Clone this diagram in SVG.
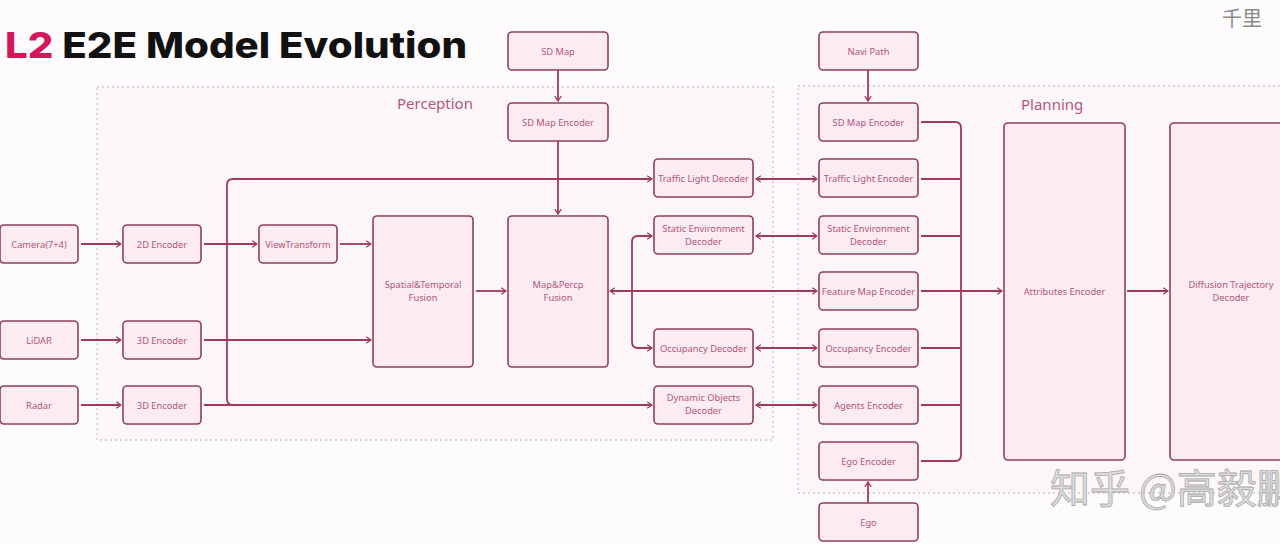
<svg xmlns="http://www.w3.org/2000/svg" width="1280" height="544" viewBox="0 0 1280 544">
<style>
.bg{fill:#fdfbfc}
.cont{fill:#fcf6f8;stroke:#cfc6ca;stroke-width:1.3;stroke-dasharray:2 3}
.box{fill:#fcecf1;stroke:#8f3f5b;stroke-width:1.6}
.lbl{font-family:"Noto Sans","Open Sans",sans-serif;font-size:9.3px;fill:#b3547a;text-anchor:middle}
.sec{font-family:"Noto Sans","Open Sans",sans-serif;font-size:15px;fill:#b5577f}
.ln{fill:none;stroke:#9e3a60;stroke-width:1.8}
.a{marker-end:url(#ah)}
.aa{marker-end:url(#ah);marker-start:url(#ah)}
.wm{font-family:"Noto Sans CJK SC",sans-serif}
</style>
<defs>
<marker id="ah" viewBox="0 0 10 10" refX="9" refY="5" markerWidth="8" markerHeight="8" markerUnits="userSpaceOnUse" orient="auto-start-reverse">
<path d="M3,1 L9,5 L3,9" fill="none" stroke="#9e3a60" stroke-width="1.6"/>
</marker>
</defs>
<rect class="bg" x="0" y="0" width="1280" height="544"/>

<g id="title">
<text x="5" y="58" font-family="Inter,'Liberation Sans',sans-serif" font-weight="800" font-size="36" textLength="462" lengthAdjust="spacingAndGlyphs" fill="#111"><tspan fill="#d4175c">L2</tspan> E2E Model Evolution</text>
</g>

<g id="perception-group">
<rect class="cont" x="97" y="87" width="676" height="353"/>
<text class="sec" x="435" y="109" text-anchor="middle">Perception</text>
</g>
<g id="planning-group">
<rect class="cont" x="798" y="86" width="490" height="407"/>
<text class="sec" x="1021" y="110" font-size="16">Planning</text>
</g>

<g id="connectors">
<path class="ln a" d="M81,244 H121"/>
<path class="ln a" d="M81,340 H121"/>
<path class="ln a" d="M81,405 H121"/>
<path class="ln a" d="M204,244 H257"/>
<path class="ln a" d="M233,405 Q227,405 227,399 V185 Q227,179 233,179 H652"/>
<path class="ln a" d="M204,405 H652"/>
<path class="ln a" d="M204,340 H371"/>
<path class="ln a" d="M340,244 H371"/>
<path class="ln a" d="M476,291 H506"/>
<path class="ln a" d="M558,70 V101"/>
<path class="ln a" d="M558,141 V214"/>
<path class="ln aa" d="M610,291 H817"/>
<path class="ln a" d="M632,291 V242 Q632,236 638,236 H652"/>
<path class="ln a" d="M632,291 V342 Q632,348 638,348 H652"/>
<path class="ln aa" d="M756,179 H817"/>
<path class="ln aa" d="M756,236 H817"/>
<path class="ln aa" d="M756,348 H817"/>
<path class="ln aa" d="M756,405 H817"/>
<path class="ln a" d="M868,70 V101"/>
<path class="ln a" d="M868,503 V482"/>
<path class="ln" d="M921,122 H955 Q961,122 961,128 V455 Q961,461 955,461 H921"/>
<path class="ln" d="M921,179 H961 M921,236 H961 M921,291 H961 M921,348 H961 M921,405 H961"/>
<path class="ln a" d="M961,291 H1002"/>
<path class="ln a" d="M1127,291 H1168"/>
</g>

<g id="camera"><rect class="box" x="0" y="225" width="78" height="38" rx="4"/><text class="lbl" x="39" y="247.5">Camera(7+4)</text></g>
<g id="lidar"><rect class="box" x="0" y="321" width="78" height="38" rx="4"/><text class="lbl" x="39" y="343.5">LiDAR</text></g>
<g id="radar"><rect class="box" x="0" y="386" width="78" height="38" rx="4"/><text class="lbl" x="39" y="408.5">Radar</text></g>
<g id="enc2d"><rect class="box" x="123" y="225" width="78" height="38" rx="4"/><text class="lbl" x="162" y="247.5">2D Encoder</text></g>
<g id="enc3d-lidar"><rect class="box" x="123" y="321" width="78" height="38" rx="4"/><text class="lbl" x="162" y="343.5">3D Encoder</text></g>
<g id="enc3d-radar"><rect class="box" x="123" y="386" width="78" height="38" rx="4"/><text class="lbl" x="162" y="408.5">3D Encoder</text></g>
<g id="viewtransform"><rect class="box" x="259" y="225" width="78" height="38" rx="4"/><text class="lbl" x="298" y="247.5">ViewTransform</text></g>
<g id="st-fusion"><rect class="box" x="373" y="216" width="100" height="151" rx="4"/><text class="lbl" x="423" y="288">Spatial&amp;Temporal</text><text class="lbl" x="423" y="301">Fusion</text></g>
<g id="mp-fusion"><rect class="box" x="508" y="216" width="100" height="151" rx="4"/><text class="lbl" x="558" y="288">Map&amp;Percp</text><text class="lbl" x="558" y="301">Fusion</text></g>
<g id="sdmap"><rect class="box" x="508" y="32" width="100" height="38" rx="4"/><text class="lbl" x="558" y="54.5">SD Map</text></g>
<g id="sdmap-enc-p"><rect class="box" x="508" y="103" width="100" height="38" rx="4"/><text class="lbl" x="558" y="125.5">SD Map Encoder</text></g>
<g id="tl-dec"><rect class="box" x="654" y="159" width="99" height="38" rx="4"/><text class="lbl" x="703.5" y="182">Traffic Light Decoder</text></g>
<g id="se-dec"><rect class="box" x="654" y="216" width="99" height="38" rx="4"/><text class="lbl" x="703.5" y="232">Static Environment</text><text class="lbl" x="703.5" y="245">Decoder</text></g>
<g id="occ-dec"><rect class="box" x="654" y="329" width="99" height="38" rx="4"/><text class="lbl" x="703.5" y="351.5">Occupancy Decoder</text></g>
<g id="dyn-dec"><rect class="box" x="654" y="386" width="99" height="38" rx="4"/><text class="lbl" x="703.5" y="401">Dynamic Objects</text><text class="lbl" x="703.5" y="414">Decoder</text></g>

<g id="navi"><rect class="box" x="819" y="32" width="99" height="38" rx="4"/><text class="lbl" x="868.5" y="54.5">Navi Path</text></g>
<g id="sdmap-enc"><rect class="box" x="819" y="103" width="99" height="38" rx="4"/><text class="lbl" x="868.5" y="125.5">SD Map Encoder</text></g>
<g id="tl-enc"><rect class="box" x="819" y="159" width="99" height="38" rx="4"/><text class="lbl" x="868.5" y="182">Traffic Light Encoder</text></g>
<g id="se-enc"><rect class="box" x="819" y="216" width="99" height="38" rx="4"/><text class="lbl" x="868.5" y="232">Static Environment</text><text class="lbl" x="868.5" y="245">Decoder</text></g>
<g id="fm-enc"><rect class="box" x="819" y="272" width="99" height="38" rx="4"/><text class="lbl" x="868.5" y="294.5">Feature Map Encoder</text></g>
<g id="occ-enc"><rect class="box" x="819" y="329" width="99" height="38" rx="4"/><text class="lbl" x="868.5" y="351.5">Occupancy Encoder</text></g>
<g id="agents-enc"><rect class="box" x="819" y="386" width="99" height="38" rx="4"/><text class="lbl" x="868.5" y="408.5">Agents Encoder</text></g>
<g id="ego-enc"><rect class="box" x="819" y="442" width="99" height="38" rx="4"/><text class="lbl" x="868.5" y="464.5">Ego Encoder</text></g>
<g id="ego"><rect class="box" x="819" y="503" width="99" height="38" rx="4"/><text class="lbl" x="868.5" y="525.5">Ego</text></g>
<g id="attr-enc"><rect class="box" x="1004" y="123" width="121" height="337" rx="4"/><text class="lbl" x="1064.5" y="294.5">Attributes Encoder</text></g>
<g id="diff-dec"><rect class="box" x="1170" y="123" width="125" height="337" rx="4"/><text class="lbl" x="1231" y="288">Diffusion Trajectory</text><text class="lbl" x="1231" y="301">Decoder</text></g>

<g id="watermarks">
<text class="wm" x="1222" y="26" font-size="20" fill="#8a8a8a">千里</text>
<text class="wm" x="1050" y="503" font-size="40" fill="#dedede" stroke="#a8a8a8" stroke-width="0.8">知乎 @高毅鹏</text>
</g>
</svg>
